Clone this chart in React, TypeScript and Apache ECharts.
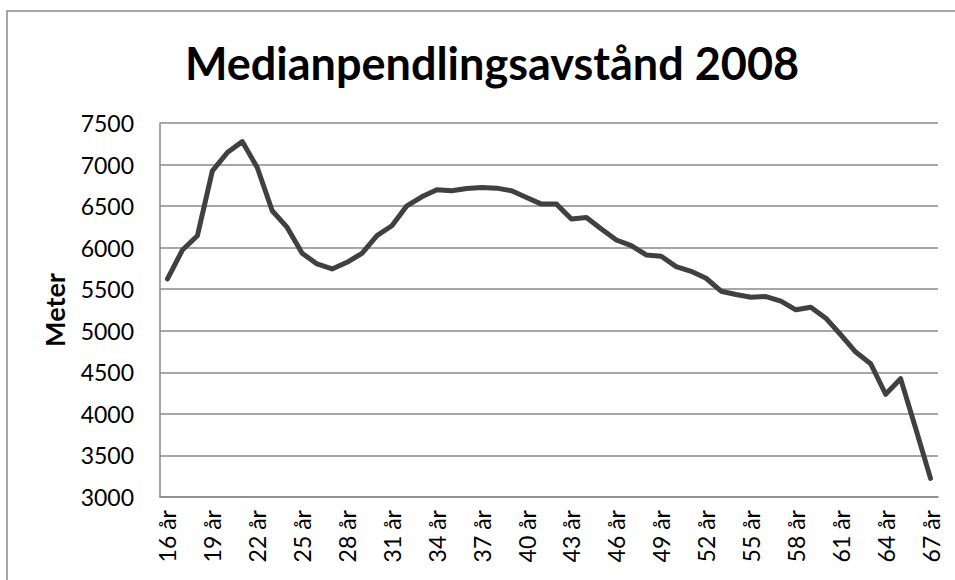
import React, { useEffect, useRef } from "react";
import * as echarts from "echarts";

const ages: number[] = [16,17,18,19,20,21,22,23,24,25,26,27,28,29,30,31,32,33,34,35,36,37,38,39,40,41,42,43,44,45,46,47,48,49,50,51,52,53,54,55,56,57,58,59,60,61,62,63,64,65,66,67];
const categories: string[] = ages.map((a) => `${a} år`);
const medianMeters: number[] = [
  5624, 5972, 6144, 6924, 7144, 7276, 6964, 6444, 6244, 5932,
  5804, 5744, 5824, 5932, 6144, 6264, 6504, 6612, 6696, 6684,
  6712, 6724, 6716, 6684, 6604, 6524, 6524, 6344, 6364, 6224,
  6092, 6024, 5912, 5896, 5772, 5716, 5632, 5476, 5436, 5404,
  5412, 5356, 5252, 5284, 5152, 4952, 4744, 4604, 4236, 4424,
  3830, 3224,
];
const yMin = 3000;
const yMax = 7500;
const yStep = 500;
const titleText = "Medianpendlingsavstånd 2008";
const yAxisName = "Meter";

export default function App() {
  const ref = useRef<HTMLDivElement>(null);
  useEffect(() => {
    document.body.style.margin = "0";
    const chart = echarts.init(ref.current!, null, { renderer: "svg" });
    const font = "Lato, 'Open Sans', sans-serif";
    chart.setOption({
      animation: false,
      backgroundColor: "#ffffff",
      title: {
        text: titleText,
        left: 487,
        textAlign: "center",
        top: 35,
        textStyle: { fontFamily: font, fontWeight: "bold", fontSize: 45, color: "#000" },
      },
      graphic: [
        {
          type: "rect",
          shape: { x: 7, y: 11, width: 1000, height: 1000 },
          style: { fill: "none", stroke: "#8a8a8a", lineWidth: 1.5 },
          silent: true,
        },
      ],
      grid: { left: 160, right: 17, top: 123, bottom: 83, containLabel: false },
      xAxis: {
        type: "category",
        data: categories,
        boundaryGap: true,
        axisLine: { show: true, lineStyle: { color: "#8a8a8a", width: 1.5 } },
        axisTick: { show: false },
        axisLabel: {
          interval: 2,
          rotate: 90,
          margin: 13,
          fontFamily: font,
          fontSize: 23,
          color: "#000",
        },
      },
      yAxis: {
        type: "value",
        min: yMin,
        max: yMax,
        interval: yStep,
        name: yAxisName,
        nameLocation: "middle",
        nameRotate: 90,
        nameGap: 92,
        nameTextStyle: { fontFamily: font, fontWeight: "bold", fontSize: 27, color: "#000" },
        axisLine: { show: true, lineStyle: { color: "#8a8a8a", width: 1.5 } },
        axisTick: { show: false },
        axisLabel: {
          margin: 26,
          fontFamily: font,
          fontSize: 23,
          color: "#000",
          formatter: (v: number) => String(v),
        },
        splitLine: { show: true, lineStyle: { color: "#8a8a8a", width: 1.5 } },
      },
      series: [
        {
          type: "line",
          data: medianMeters,
          symbol: "none",
          lineStyle: { color: "#404040", width: 5, join: "round", cap: "round" },
        },
      ],
    });
    return () => chart.dispose();
  }, []);
  return <div ref={ref} style={{ position: "fixed", left: 0, top: 0, width: 955, height: 580 }} />;
}
